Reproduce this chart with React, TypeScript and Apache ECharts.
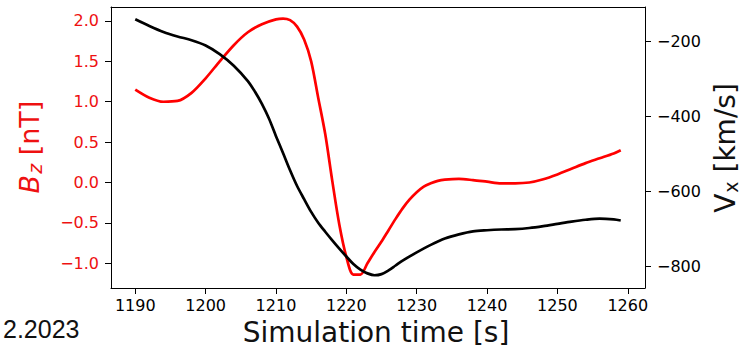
import React, { useEffect, useRef } from "react";
import * as echarts from "echarts";

const bzTimes = [1190, 1192, 1194, 1196, 1198, 1200, 1202, 1204, 1206, 1208, 1210, 1211, 1212, 1213, 1214, 1215, 1216, 1217, 1218, 1219, 1220, 1221, 1222, 1223, 1224, 1225, 1226, 1227, 1228, 1229, 1230, 1231, 1232, 1233, 1234, 1236, 1238, 1240, 1242, 1244, 1246, 1248, 1250, 1252, 1254, 1256, 1258, 1259];
const bzValues = [1.15, 1.05, 1.0, 1.01, 1.11, 1.29, 1.5, 1.7, 1.86, 1.96, 2.02, 2.03, 2.01, 1.93, 1.77, 1.5, 1.05, 0.6, 0.02, -0.52, -0.92, -1.14, -1.14, -1.0, -0.86, -0.73, -0.59, -0.45, -0.32, -0.21, -0.12, -0.05, -0.01, 0.02, 0.035, 0.045, 0.03, 0.01, -0.01, -0.01, 0.0, 0.04, 0.1, 0.17, 0.24, 0.3, 0.36, 0.4];

const vxTimes = [1190, 1192, 1194, 1196, 1198, 1200, 1202, 1204, 1206, 1207, 1208, 1209, 1210, 1211, 1212, 1213, 1214, 1215, 1216, 1217, 1218, 1219, 1220, 1221, 1222, 1223, 1224, 1225, 1226, 1227, 1228, 1230, 1232, 1234, 1236, 1238, 1240, 1242, 1244, 1246, 1248, 1250, 1252, 1254, 1256, 1258, 1259];
const vxValues = [-140, -158, -174, -186, -196, -210, -233, -264, -305, -333, -366, -405, -452, -497, -543, -585, -620, -654, -683, -707, -730, -752, -773, -793, -808, -818, -823, -820, -810, -797, -784, -762, -742, -725, -714, -706, -703, -701, -700, -697, -692, -686, -680, -675, -672, -674, -677];

const xTicks = [1190, 1200, 1210, 1220, 1230, 1240, 1250, 1260];
const bzTicks = [-1.0, -0.5, 0.0, 0.5, 1.0, 1.5, 2.0];
const vxTicks = [-800, -600, -400, -200];

const xTitle = "Simulation time [s]";
const cornerText = "2.2023";

const FONT = "DejaVu Sans";

function fmtMinus(s: string) {
  return s.replace("-", "\u2212");
}

export default function App() {
  const ref = useRef<HTMLDivElement>(null);

  useEffect(() => {
    if (!ref.current) return;
    const chart = echarts.init(ref.current, null, { renderer: "svg" });

    const bzData = bzTimes.map((t, i) => [t, bzValues[i]]);
    const vxData = vxTimes.map((t, i) => [t, vxValues[i]]);

    const xMin = 1186.55;
    const xMax = 1262.45;

    const option: any = {
      animation: false,
      backgroundColor: "#ffffff",
      grid: { left: 111, right: 99, top: 7, bottom: 63, containLabel: false },
      xAxis: [
        {
          type: "value",
          min: xMin,
          max: xMax,
          position: "bottom",
          axisLine: { show: true, onZero: false, lineStyle: { color: "#000", width: 1 } },
          axisTick: { show: true, length: 6, customValues: xTicks, lineStyle: { color: "#000", width: 1 } },
          axisLabel: {
            customValues: xTicks,
            color: "#000",
            fontFamily: FONT,
            fontSize: 16,
            margin: 9,
            formatter: (v: number) => String(Math.round(v)),
          },
          splitLine: { show: false },
        },
        {
          type: "value",
          min: xMin,
          max: xMax,
          position: "top",
          axisLine: { show: true, onZero: false, lineStyle: { color: "#000", width: 1 } },
          axisTick: { show: false },
          axisLabel: { show: false },
          splitLine: { show: false },
        },
      ],
      yAxis: [
        {
          type: "value",
          min: -1.306,
          max: 2.173,
          position: "left",
          axisLine: { show: true, onZero: false, lineStyle: { color: "#000", width: 1 } },
          axisTick: { show: true, length: 6, customValues: bzTicks, lineStyle: { color: "#000", width: 1 } },
          axisLabel: {
            customValues: bzTicks,
            color: "#ee1111",
            fontFamily: FONT,
            fontSize: 16,
            margin: 12,
            formatter: (v: number) => fmtMinus(v.toFixed(1)),
          },
          splitLine: { show: false },
        },
        {
          type: "value",
          min: -857,
          max: -107.5,
          position: "right",
          axisLine: { show: true, onZero: false, lineStyle: { color: "#000", width: 1 } },
          axisTick: { show: true, length: 6, customValues: vxTicks, lineStyle: { color: "#000", width: 1 } },
          axisLabel: {
            customValues: vxTicks,
            color: "#000",
            fontFamily: FONT,
            fontSize: 16,
            margin: 12,
            formatter: (v: number) => fmtMinus(String(Math.round(v))),
          },
          splitLine: { show: false },
        },
      ],
      series: [
        {
          name: "Bz",
          type: "line",
          xAxisIndex: 0,
          yAxisIndex: 0,
          data: bzData,
          showSymbol: false,
          smooth: 0.3,
          lineStyle: { color: "#ff0000", width: 2.7 },
          itemStyle: { color: "#ff0000" },
          z: 3,
        },
        {
          name: "Vx",
          type: "line",
          xAxisIndex: 0,
          yAxisIndex: 1,
          data: vxData,
          showSymbol: false,
          smooth: 0.3,
          lineStyle: { color: "#000000", width: 2.7 },
          itemStyle: { color: "#000000" },
          z: 4,
        },
      ],
      graphic: [
        {
          type: "text",
          x: 376,
          y: 332,
          style: {
            text: xTitle,
            fill: "#111",
            fontFamily: FONT,
            fontSize: 28,
            textAlign: "center",
            textVerticalAlign: "middle",
          },
        },
        {
          type: "text",
          x: 3,
          y: 329,
          style: {
            text: cornerText,
            fill: "#111",
            fontFamily: "Liberation Sans",
            fontSize: 25,
            textAlign: "left",
            textVerticalAlign: "middle",
          },
        },
        {
          type: "text",
          x: 29,
          y: 147,
          rotation: Math.PI / 2,
          style: {
            text: "{b|B}{s|z}{n| [nT]}",
            fill: "#ee1111",
            textAlign: "center",
            textVerticalAlign: "middle",
            rich: {
              b: { fontFamily: FONT, fontStyle: "italic", fontSize: 27, lineHeight: 32, fill: "#ee1111" },
              s: { fontFamily: FONT, fontStyle: "italic", fontSize: 19, lineHeight: 19, padding: [12, 0, 0, 1], fill: "#ee1111" },
              n: { fontFamily: FONT, fontSize: 27, lineHeight: 32, fill: "#ee1111" },
            },
          },
        },
        {
          type: "text",
          x: 725,
          y: 148,
          rotation: Math.PI / 2,
          style: {
            text: "{b|V}{s|x}{n| [km/s]}",
            fill: "#111",
            textAlign: "center",
            textVerticalAlign: "middle",
            rich: {
              b: { fontFamily: FONT, fontSize: 28, lineHeight: 32, fill: "#111" },
              s: { fontFamily: FONT, fontSize: 19, lineHeight: 19, padding: [12, 0, 0, 1], fill: "#111" },
              n: { fontFamily: FONT, fontSize: 28, lineHeight: 32, fill: "#111" },
            },
          },
        },
      ],
    };

    chart.setOption(option);
    return () => {
      chart.dispose();
    };
  }, []);

  return (
    <div
      ref={ref}
      style={{ position: "fixed", left: 0, top: 0, width: 744, height: 351, background: "#fff" }}
    />
  );
}
